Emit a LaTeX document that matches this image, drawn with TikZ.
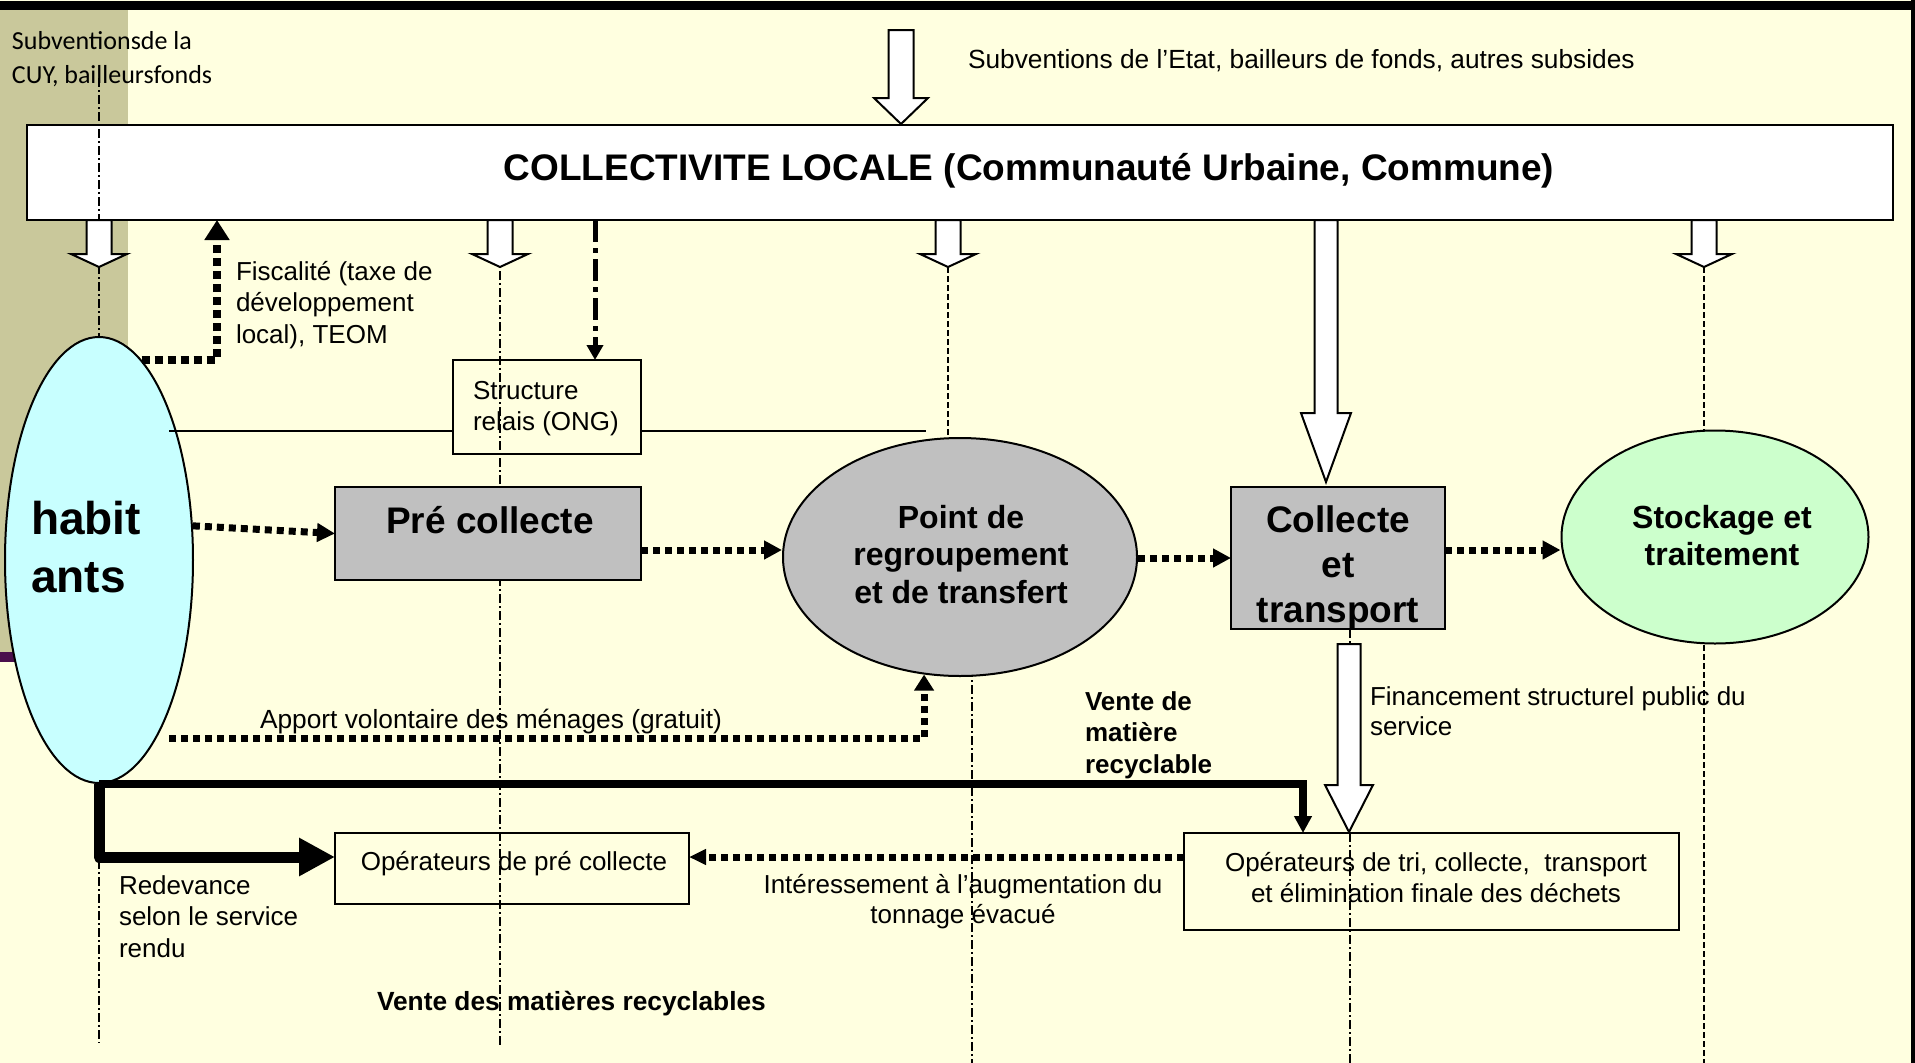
\documentclass[tikz,border=0pt]{standalone}
\usepackage{fontspec}
\setmainfont{Liberation Sans}
\newfontfamily\calfont{Carlito}
\usetikzlibrary{shapes.geometric,arrows.meta}
\definecolor{bgc}{HTML}{FFFFE0}
\definecolor{oliveS}{HTML}{C9C89B}
\definecolor{purp}{HTML}{4A0F4C}
\definecolor{cyanE}{HTML}{C8FFFF}
\definecolor{greenE}{HTML}{CCFFCC}
\definecolor{grayB}{HTML}{C0C0C0}
\newcommand\fs[2]{\fontsize{#1}{#2}\selectfont}
\newcommand\hollowdown[6]{\filldraw[fill=white,draw=black,line width=2pt,line join=miter]
  ({#1-#5},#2) -- ({#1+#5},#2) -- ({#1+#5},#3) -- ({#1+#6},#3) -- (#1,#4) -- ({#1-#6},#3) -- ({#1-#5},#3) -- cycle;}
\tikzset{
  txt/.style={inner sep=0pt, outer sep=0pt},
  boxS/.style={draw, line width=2pt, inner sep=0pt, outer sep=0pt, anchor=north west},
  sqdot/.style={line width=7pt, dash pattern=on 7pt off 5pt, -{Triangle[length=18pt,width=18pt]}},
  thinDD/.style={line width=1.8pt, dash pattern=on 9pt off 3pt on 2pt off 3pt},
  thinD/.style={line width=1.5pt, dash pattern=on 6pt off 3pt},
}
\begin{document}
\begin{tikzpicture}[x=1pt,y=-1pt]
\useasboundingbox (0,0) rectangle (1915,1063);
% background
\fill[bgc] (0,0) rectangle (1915,1063);
\fill[oliveS] (0,10) rectangle (128,652);
\fill[purp] (0,652) rectangle (128,662);
\fill[black] (0,1) rectangle (1915,10);
\fill[black] (1911,0) rectangle (1915,1063);

% helper coordinates
\coordinate (y550) at (0,550);
\coordinate (y558) at (0,558);
\coordinate (y857) at (0,857);
\coordinate (fx) at (217,0);
\coordinate (relx) at (595,0);
\coordinate (x1303) at (1303,0);
\coordinate (av0) at (169,738);

% top box
\node[boxS, fill=white, minimum width=1866pt, minimum height=95pt] (coll) at (27,125) {};
\node[txt, anchor=base, font=\bfseries\fs{37}{44}] (colltxt) at (1029,180) {COLLECTIVITE LOCALE (Communauté Urbaine, Commune)};

% structure relais and operator boxes
\node[boxS, fill=bgc, minimum width=188pt, minimum height=94pt] (rel) at (453,360) {};
\node[boxS, fill=bgc, minimum width=354pt, minimum height=71pt] (opc) at (335,833) {};
\node[boxS, fill=bgc, minimum width=495pt, minimum height=97pt] (tri) at (1184,833) {};

% texts
\node[txt, anchor=base west] (cuy) at (12,49) {\parbox[t]{300pt}{\raggedright\calfont\fs{26}{34}Subventionsde la\\CUY, bailleursfonds}};
\node[txt, anchor=base west] (etat) at (968,68) {\fs{26.3}{31}Subventions de l’Etat, bailleurs de fonds, autres subsides};
\node[txt, anchor=base west] (fisc) at (236,280) {\parbox[t]{300pt}{\raggedright\fs{26}{31.5}Fiscalité (taxe de\\développement\\local), TEOM}};
\node[txt, anchor=base west] (reltxt) at (473,399) {\parbox[t]{300pt}{\raggedright\fs{26}{31}Structure\\relais (ONG)}};
\node[txt, anchor=base west] (apport) at (260,728) {\fs{26.3}{31}Apport volontaire des ménages (gratuit)};
\node[txt, anchor=base west] (vmr) at (1085,710) {\parbox[t]{300pt}{\raggedright\bfseries\fs{26}{31.5}Vente de\\matière\\recyclable}};
\node[txt, anchor=base west] (fin) at (1370,705) {\parbox[t]{500pt}{\raggedright\fs{26}{30}Financement structurel public du\\service}};
\node[txt, anchor=base west] (red) at (119,894) {\parbox[t]{300pt}{\raggedright\fs{26}{31.5}Redevance\\selon le service\\rendu}};
\node[txt, anchor=base] (opctxt) at (514,870) {\fs{26}{31}Opérateurs de pré collecte};
\node[txt, anchor=base] (int) at (963,893) {\parbox[t]{500pt}{\centering\fs{26}{30}Intéressement à l’augmentation du\\tonnage évacué}};
\node[txt, anchor=base] (tritxt) at (1436,871) {\parbox[t]{600pt}{\centering\fs{26}{31}Opérateurs de tri, collecte,~ transport\\et élimination finale des déchets}};
\node[txt, anchor=base west] (vdm) at (377,1010) {\bfseries\fs{26.3}{31}Vente des matières recyclables};

% vertical guide lines
\draw[thinDD] (99,78) -- (99,1043);
\draw[thinDD] (500,220) -- (500,1046);
\draw[thinDD] (972,600) -- (972,1063);
\draw[thinDD] (1350,629) -- (1350,1063);
\draw[thinD] (948,267) -- (948,440);
\draw[thinD] (1704,267) -- (1704,1063);

% hollow arrows
\hollowdown{901}{30}{98}{124}{12.5}{27}
\hollowdown{99}{220}{254}{267}{12.5}{28}
\hollowdown{500}{220}{254}{267}{12.5}{28}
\hollowdown{948}{220}{254}{267}{12.5}{28}
\hollowdown{1704}{220}{254}{267}{12.5}{28}
\hollowdown{1326}{220}{413}{482}{11.5}{25}
\hollowdown{1349}{644}{785}{832}{11.5}{24}

% main shapes
\node[ellipse, draw, line width=2pt, fill=cyanE, minimum width=188pt, minimum height=446pt, inner sep=0pt] (hab) at (99,560) {};
\node[txt, anchor=base west] (habtxt) at (31,534) {\parbox[t]{200pt}{\raggedright\bfseries\fs{46}{58}habit\\ants}};
\node[boxS, fill=grayB, minimum width=306pt, minimum height=93pt] (pre) at (335,487) {};
\node[txt, anchor=base, font=\bfseries\fs{37}{44}] (pretxt) at (490,533) {Pré collecte};
\node[ellipse, draw, line width=2pt, fill=grayB, minimum width=354pt, minimum height=238pt, inner sep=0pt] (pt) at (960,557) {};
\node[txt, anchor=base] (pttxt) at (961,528) {\parbox[t]{300pt}{\centering\bfseries\fs{32}{37.5}Point de\\regroupement\\et de transfert}};
\node[boxS, fill=grayB, minimum width=214pt, minimum height=142pt] (ct) at (1231,487) {};
\node[txt, anchor=base] (cttxt) at (1338,532) {\parbox[t]{300pt}{\centering\bfseries\fs{37}{45}Collecte\\et\\transport}};
\node[ellipse, draw, line width=2pt, fill=greenE, minimum width=307pt, minimum height=213pt, inner sep=0pt] (stk) at (1715,537) {};
\node[txt, anchor=base] (stktxt) at (1722,528) {\parbox[t]{300pt}{\centering\bfseries\fs{32}{37}Stockage et\\traitement}};

% thin horizontal line through the relais box
\draw[line width=2pt] (169,431) -- (rel.west |- 0,431);
\draw[line width=2pt] (rel.east |- 0,431) -- (926,431);

% dotted flows
\draw[sqdot] (hab.20.6) -- (pre.west);
\draw[sqdot] (pre.east |- y550) -- (pt.west |- y550);
\draw[sqdot] (pt.east |- y558) -- (ct.west |- y558);
\draw[sqdot] (ct.east |- y550) -- (stk.west |- y550);
\draw[sqdot, line width=8pt, dash pattern=on 8pt off 5pt, -{Triangle[length=20pt,width=24pt]}] (hab.78) -| (coll.south -| fx);
\draw[sqdot, -{Triangle[length=16pt,width=19pt]}] (av0) -| (pt.253.2);
\draw[sqdot, -{Triangle[length=17pt,width=15pt]}] (tri.west |- y857) -- (opc.east |- y857);
\draw[line width=5pt, dash pattern=on 22pt off 6pt on 5pt off 6pt, -{Triangle[length=15pt,width=16pt]}] (coll.south -| relx) -- (rel.north -| relx);

% thick flows
\draw[line width=8pt, -{Triangle[length=17pt,width=17pt]}] (hab.south) -| (tri.north -| x1303);
\draw[line width=11pt, line join=round, -{Triangle[length=36pt,width=36pt]}] (hab.south) |- (opc.west |- y857);
\end{tikzpicture}
\end{document}
